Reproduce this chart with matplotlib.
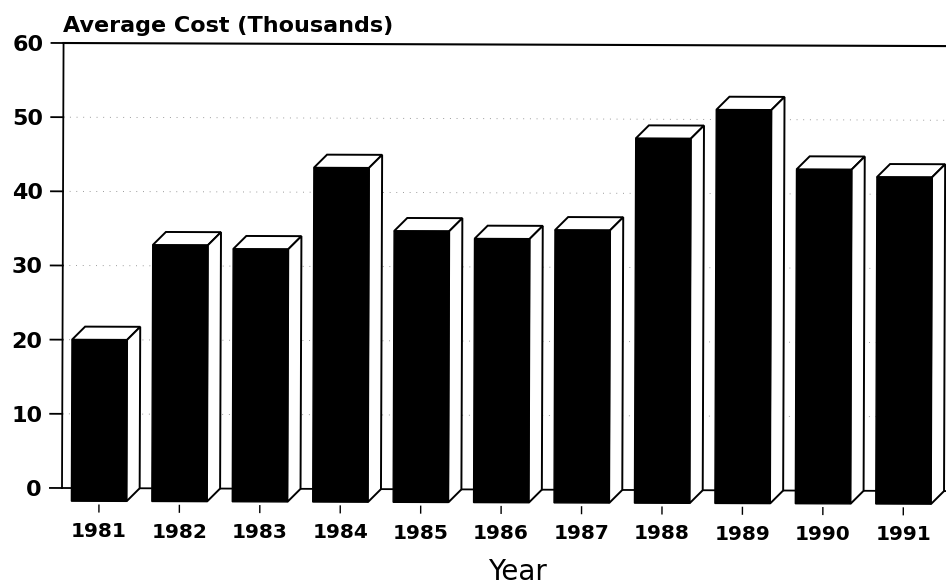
import matplotlib
matplotlib.use("Agg")
import matplotlib.pyplot as plt
from matplotlib.patches import Polygon
from matplotlib.transforms import Affine2D

plt.rcParams['font.family'] = ['DejaVu Sans']

years = [1981, 1982, 1983, 1984, 1985, 1986, 1987, 1988, 1989, 1990, 1991]
avg_cost = [20.0, 32.8, 32.3, 43.3, 34.8, 33.8, 35.0, 47.4, 51.3, 43.3, 42.3]
y_ticks = [0, 10, 20, 30, 40, 50, 60]
grid_levels = [10, 20, 30, 40, 50]

# 3d look of the bars, in data units
bar_w = 0.685
depth_x = 0.163
depth_y = 1.77

fig = plt.figure(figsize=(9.46, 5.87), dpi=100)
ax = fig.add_axes([62 / 946, 1 - 488 / 587, 884 / 946, 445 / 587])
ax.set_xlim(1980.54, 1991.53)
ax.set_ylim(0, 60)
ax.axis('off')

# the page was scanned slightly crooked
px, py = ax.transData.transform((1980.54, 0))
tilt = ax.transData + Affine2D().rotate_deg_around(px, py, -0.2)

x_left = ax.get_xlim()[0]
x_right = ax.get_xlim()[1]

# frame, floor and grid
ax.plot([x_left, x_right], [60, 60], color='black', lw=1.5, transform=tilt, clip_on=False, zorder=1)
ax.plot([x_left, x_left], [0, 60], color='black', lw=1.3, transform=tilt, clip_on=False, zorder=1)
ax.plot([x_left, x_right], [0, 0], color='black', lw=1.3, transform=tilt, clip_on=False, zorder=1)
for g in grid_levels:
    ax.plot([x_left, x_right], [g, g], color='#777777', lw=0.6, ls=(0, (1, 7)),
            transform=tilt, clip_on=False, zorder=0.5)

for t in y_ticks:
    ax.plot([x_left - 0.15, x_left], [t, t], color='black', lw=1.3, transform=tilt, clip_on=False)
    ax.text(x_left - 0.25, t, str(t), ha='right', va='center_baseline', fontsize=16, fontweight='bold',
            transform=tilt, clip_on=False)

for i in range(len(years)):
    x0 = years[i] - bar_w / 2
    x1 = years[i] + bar_w / 2
    top = avg_cost[i]
    bottom = -depth_y
    # top face
    ax.add_patch(Polygon([(x0, top), (x0 + depth_x, top + depth_y), (x1 + depth_x, top + depth_y), (x1, top)],
                         fc='white', ec='black', lw=1.4, transform=tilt, clip_on=False, zorder=2))
    # side face
    ax.add_patch(Polygon([(x1, bottom), (x1 + depth_x, 0), (x1 + depth_x, top + depth_y), (x1, top)],
                         fc='white', ec='black', lw=1.4, transform=tilt, clip_on=False, zorder=2))
    # front face
    ax.add_patch(Polygon([(x0, bottom), (x1, bottom), (x1, top), (x0, top)],
                         fc='black', ec='black', lw=1, transform=tilt, clip_on=False, zorder=3))
    ax.plot([years[i], years[i]], [-2.3, -3.2], color='black', lw=1, transform=tilt, clip_on=False)
    ax.text(years[i], -5.9, str(years[i]), ha='center', va='center', fontsize=14.5, fontweight='bold',
            transform=tilt, clip_on=False)

ax.text(x_left - 0.01, 61.0, 'Average Cost (Thousands)', ha='left', va='bottom', fontsize=16, fontweight='bold',
        transform=tilt, clip_on=False)
ax.text(1986.2, -11.1, 'Year', ha='center', va='center', fontsize=20, transform=tilt, clip_on=False)

fig.savefig('out.png', dpi=100)
